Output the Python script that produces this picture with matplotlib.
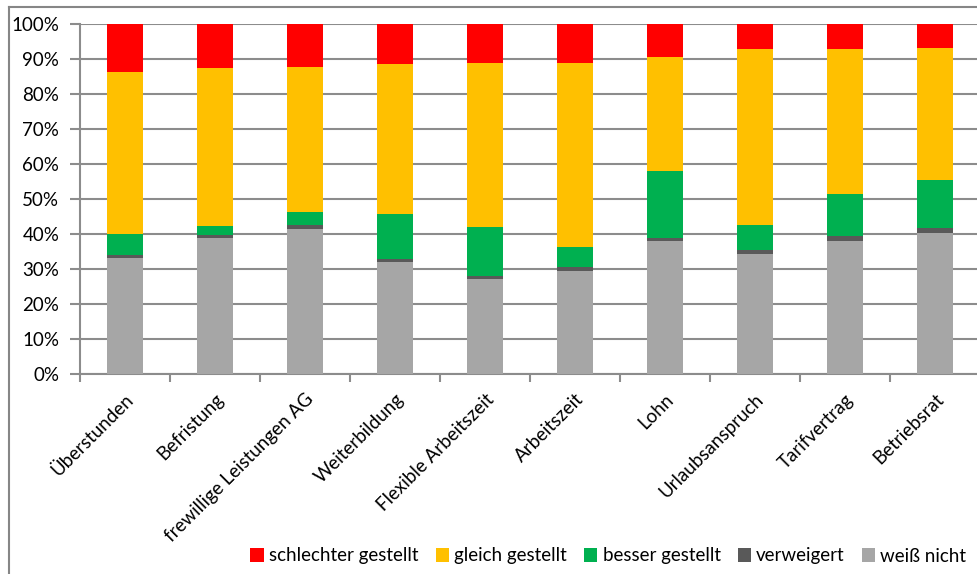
import matplotlib
matplotlib.use("Agg")
import matplotlib.pyplot as plt
from matplotlib.patches import Patch
from matplotlib.lines import Line2D
from matplotlib.ticker import PercentFormatter, FixedLocator
import numpy as np

categories = ["Überstunden", "Befristung", "frewillige Leistungen AG", "Weiterbildung",
              "Flexible Arbeitszeit", "Arbeitszeit", "Lohn", "Urlaubsanspruch",
              "Tarifvertrag", "Betriebsrat"]

weiss_nicht = [33.2, 38.9, 41.4, 32.0, 27.1, 29.4, 37.9, 34.4, 38.1, 40.3]
verweigert = [0.9, 0.7, 1.1, 1.0, 1.0, 1.1, 1.0, 0.9, 1.3, 1.5]
besser = [6.0, 2.8, 3.8, 12.7, 14.0, 5.9, 19.0, 7.4, 12.1, 13.6]
gleich = [46.2, 45.1, 41.4, 42.9, 46.8, 52.5, 32.8, 50.2, 41.4, 37.8]
schlechter = [13.7, 12.5, 12.3, 11.4, 11.1, 11.1, 9.3, 7.1, 7.1, 6.8]

series_names = ["weiß nicht", "verweigert", "besser gestellt", "gleich gestellt", "schlechter gestellt"]
series_values = [weiss_nicht, verweigert, besser, gleich, schlechter]
colors = ["#A6A6A6", "#595959", "#00B050", "#FFC000", "#FF0000"]

plt.rcParams["font.family"] = ["Lato", "DejaVu Sans"]

W, H = 977, 574
fig = plt.figure(figsize=(W / 100, H / 100), dpi=100)
ax = fig.add_axes([80 / W, (H - 374) / H, 900 / W, 350 / H])

x = np.arange(len(categories))
bottom = np.zeros(len(categories))
for name, vals, col in zip(series_names, series_values, colors):
    ax.bar(x, vals, width=0.4, bottom=bottom, color=col, label=name,
           zorder=3, linewidth=0)
    bottom += np.array(vals)

grid_col = "#8C8C8C"
ax.set_xlim(-0.5, len(categories) - 0.5)
ax.set_ylim(0, 100)
ax.yaxis.set_major_locator(FixedLocator(np.arange(0, 101, 10)))
ax.yaxis.set_major_formatter(PercentFormatter(decimals=0))
ax.yaxis.grid(True, color=grid_col, linewidth=1.5, zorder=0)
ax.set_axisbelow(True)

ax.set_xticks(np.arange(len(categories) + 1) - 0.5)
ax.set_xticklabels([])
ax.set_xticks(x, minor=True)
ax.set_xticklabels(categories, minor=True, rotation=45, ha="right",
                   rotation_mode="anchor", fontsize=13.5)
ax.tick_params(axis="x", which="minor", length=0, pad=12)
ax.tick_params(axis="x", which="major", length=6, color=grid_col, width=1.5)
ax.tick_params(axis="y", length=7, color=grid_col, width=1.5, labelsize=13.5, pad=8)

for s in ["top", "right"]:
    ax.spines[s].set_visible(False)
for s in ["left", "bottom"]:
    ax.spines[s].set_color(grid_col)
    ax.spines[s].set_linewidth(1.5)

# outer chart frame
frame_col = "#868686"
fig.add_artist(Line2D([8.5 / W, 8.5 / W], [0, 1 - 7 / H], transform=fig.transFigure,
                      color=frame_col, linewidth=1.5))
fig.add_artist(Line2D([8.5 / W, 1], [1 - 7 / H, 1 - 7 / H], transform=fig.transFigure,
                      color=frame_col, linewidth=1.5))

legend_order = ["schlechter gestellt", "gleich gestellt", "besser gestellt", "verweigert", "weiß nicht"]
handles = [Patch(facecolor=colors[series_names.index(n)], label=n) for n in legend_order]
fig.legend(handles=handles, loc="center right", bbox_to_anchor=(974 / W, 1 - 556 / H),
           ncol=5, frameon=False, fontsize=13.5, handlelength=0.7, handleheight=0.7,
           handletextpad=0.3, columnspacing=0.9, borderaxespad=0)

fig.savefig("out.png", dpi=100)
